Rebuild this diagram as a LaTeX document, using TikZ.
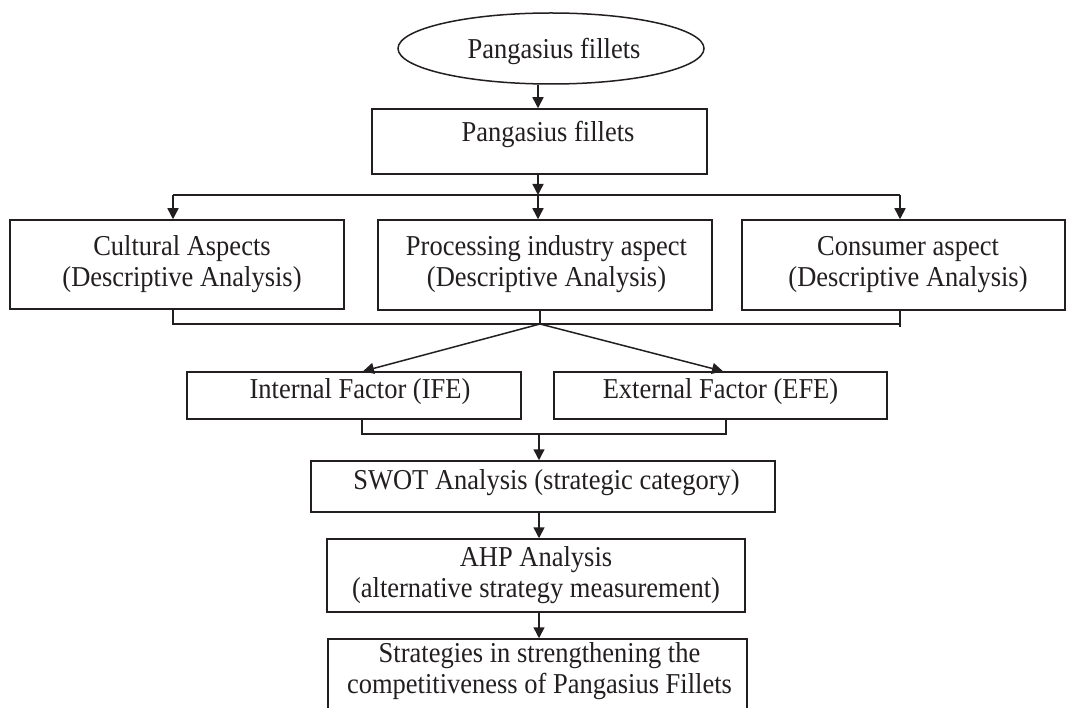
\documentclass[tikz,border=0pt]{standalone}
\usepackage{fontspec}
\setmainfont[FakeStretch=0.92]{Liberation Serif}
\usetikzlibrary{arrows.meta,shapes.geometric}
\definecolor{ink}{RGB}{35,31,32}
\newcommand{\twoline}[3]{\begin{tabular}{@{}c@{}}#1\\#2\rule[-#3pt]{0pt}{#3pt}\end{tabular}}
\tikzset{
  box/.style={draw=ink, line width=1.5pt, rectangle, inner sep=0pt, text=ink,
    font=\fontsize{28.8}{31}\selectfont},
  oneline/.style={text height=19.1pt, text depth=#1},
  arr/.style={draw=ink, line width=1.5pt, -{Triangle[length=11pt,width=11pt]}},
  ln/.style={draw=ink, line width=1.5pt},
}
\begin{document}
\begin{tikzpicture}[x=1pt,y=-1pt]
\clip (0,0) rectangle (1067,708);
\fill[white] (0,0) rectangle (1067,708);

\node[box, ellipse, oneline=0pt, minimum width=306pt, minimum height=71pt] (ell) at (551,48.5) {\hspace*{6pt}Pangasius fillets};
\node[box, oneline=18.1pt, minimum width=335pt, minimum height=65pt] (b2) at (539.5,141.5) {\hspace*{17pt}Pangasius fillets};

\node[box, minimum width=334pt, minimum height=89pt] (cult) at (177,264.5) {\hspace*{10pt}\twoline{Cultural Aspects}{(Descriptive Analysis)}{0}};
\node[box, minimum width=334pt, minimum height=90pt] (proc) at (545,265) {\hspace*{3pt}\twoline{Processing industry aspect}{(Descriptive Analysis)}{0}};
\node[box, minimum width=323pt, minimum height=90pt] (cons) at (903.5,265) {\hspace*{9pt}\twoline{Consumer aspect}{(Descriptive Analysis)}{0}};

\node[box, oneline=14.1pt, minimum width=334pt, minimum height=47pt] (ife) at (354,395.5) {\hspace*{12pt}Internal Factor (IFE)};
\node[box, oneline=14.1pt, minimum width=333pt, minimum height=47pt] (efe) at (720.5,395.5) {External Factor (EFE)};

\node[box, oneline=14.1pt, minimum width=464pt, minimum height=51pt] (swot) at (543,486.5) {\hspace*{7pt}SWOT Analysis (strategic category)};
\node[box, minimum width=418pt, minimum height=73pt] (ahp) at (536,575.5) {\twoline{AHP Analysis}{(alternative strategy measurement)}{0}};
\node[box, minimum width=419pt, minimum height=73pt] (fin) at (537.5,675.5) {\hspace*{4pt}\twoline{Strategies in strengthening the}{competitiveness of Pangasius Fillets}{17.7}};

% top chain
\coordinate (j1) at (538,195);
\coordinate (cl) at (173,195);
\coordinate (cr) at (900,195);
\draw[arr] (ell.south -| j1) -- (b2.north -| j1);
\draw[arr] (b2.south -| j1) -- (j1);
\draw[arr] (j1) -- (proc.north -| j1);
\draw[ln] (cl) -- (cr);
\draw[arr] (cl) -- (cult.north -| cl);
\draw[arr] (cr) -- (cons.north -| cr);

% collector under the three aspects
\coordinate (j2) at (540,324);
\coordinate (bl) at (173,324);
\coordinate (br) at (900,324);
\draw[ln] (cult.south -| bl) -- (bl) -- (br);
\draw[ln] (cons.south -| br) -- (br) -- ++(0,3);
\draw[ln] (proc.south -| j2) -- (j2);
\draw[arr] (j2) -- ([xshift=9pt]ife.north);
\draw[arr] (j2) -- ([xshift=2.5pt]efe.north);

% collector under IFE / EFE
\coordinate (j3) at (539,434);
\draw[ln] ([xshift=8pt]ife.south) |- (j3) -| ([xshift=5.5pt]efe.south);
\draw[arr] (j3) -- (swot.north -| j3);
\draw[arr] (swot.south -| j3) -- (ahp.north -| j3);
\draw[arr] (ahp.south -| j3) -- (fin.north -| j3);
\end{tikzpicture}
\end{document}
